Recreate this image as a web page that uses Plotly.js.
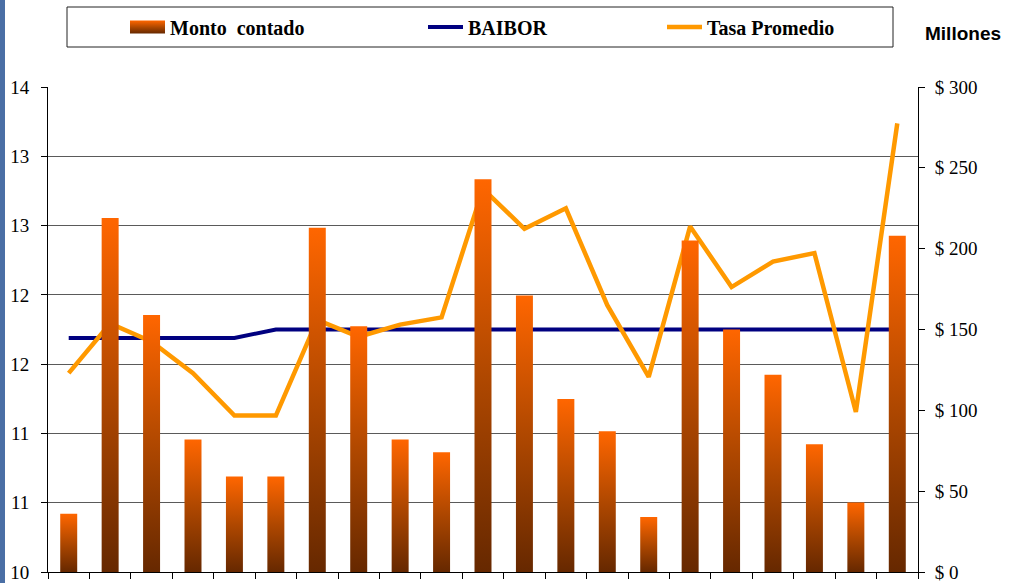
<!DOCTYPE html>
<html>
<head>
<meta charset="utf-8">
<script src="https://cdn.plot.ly/plotly-3.0.1.min.js"></script>
<style>
  html, body { margin: 0; padding: 0; background: #ffffff; }
  body { width: 1009px; height: 583px; overflow: hidden; position: relative; }
  #strip { position: absolute; left: 0; top: 0; width: 5px; height: 583px; background: #4a6fa5; z-index: 5; }
  #chart { width: 1009px; height: 583px; }
</style>
</head>
<body>
<div id="strip"></div>
<div id="chart"></div>
<script>
// ---- data ----
const categories = ["1","2","3","4","5","6","7","8","9","10","11","12","13","14","15","16","17","18","19","20","21"];
const montoContado = [36, 219, 159, 82, 59, 59, 213, 152, 82, 74, 243, 171, 107, 87, 34, 205, 150, 122, 79, 43, 208];
const baibor = [11.93, 11.93, 11.93, 11.93, 11.93, 12.0, 12.0, 12.0, 12.0, 12.0, 12.0, 12.0, 12.0, 12.0, 12.0, 12.0, 12.0, 12.0, 12.0, 12.0, 12.0];
const tasaPromedio = [11.64, 12.05, 11.90, 11.64, 11.29, 11.29, 12.08, 11.94, 12.04, 12.10, 13.16, 12.83, 13.00, 12.20, 11.61, 12.85, 12.35, 12.56, 12.63, 11.32, 13.70];
const leftTickLabels = ["10", "11", "11", "12", "12", "13", "13", "14"];
const leftRange = [10, 14];
const rightRange = [0, 300];

const leftTickVals = leftTickLabels.map((_, i) => leftRange[0] + i * (leftRange[1] - leftRange[0]) / (leftTickLabels.length - 1));

const serif = "Liberation Serif, Times New Roman, serif";
const W = 1009, H = 583;
const legendFont = { family: serif, size: 20, color: "#000000", weight: "bold" };
function legendAt(px) {
  return {
    orientation: "h",
    xref: "container", yref: "container",
    x: px / W, xanchor: "left",
    y: 1 - 27 / H, yanchor: "middle",
    bgcolor: "rgba(0,0,0,0)",
    borderwidth: 0,
    font: legendFont
  };
}

const traces = [
  {
    type: "bar",
    name: "Monto  contado",
    x: categories,
    y: montoContado,
    yaxis: "y2",
    legend: "legend",
    width: 0.41,
    marker: { color: "#d95500", line: { width: 0 } },
    hoverinfo: "skip"
  },
  {
    type: "scatter",
    mode: "lines",
    name: "BAIBOR",
    x: categories,
    y: baibor,
    yaxis: "y",
    legend: "legend2",
    line: { color: "#000080", width: 4 },
    hoverinfo: "skip"
  },
  {
    type: "scatter",
    mode: "lines",
    name: "Tasa Promedio",
    x: categories,
    y: tasaPromedio,
    yaxis: "y",
    legend: "legend3",
    line: { color: "#ff9900", width: 4.5 },
    hoverinfo: "skip"
  }
];

const layout = {
  width: W,
  height: H,
  margin: { l: 48, r: 91, t: 87, b: 11 },
  paper_bgcolor: "#ffffff",
  plot_bgcolor: "#ffffff",
  font: { family: serif, size: 19, color: "#000000" },
  showlegend: true,
  legend: legendAt(130),
  legend2: legendAt(428),
  legend3: legendAt(667),
  xaxis: {
    type: "category",
    categoryorder: "array",
    categoryarray: categories,
    showticklabels: false,
    ticks: "outside",
    tickson: "boundaries",
    ticklen: 6,
    tickcolor: "#000000",
    showline: true,
    linecolor: "#000000",
    linewidth: 1,
    showgrid: false,
    zeroline: false,
    fixedrange: true
  },
  yaxis: {
    range: leftRange,
    tickmode: "array",
    tickvals: leftTickVals,
    ticktext: leftTickLabels,
    ticks: "outside",
    ticklen: 6,
    tickcolor: "#000000",
    ticklabelstandoff: 8,
    showline: true,
    linecolor: "#000000",
    linewidth: 1,
    showgrid: true,
    gridcolor: "#5a5a5a",
    gridwidth: 1,
    zeroline: false,
    tickfont: { family: serif, size: 19, color: "#000000" },
    fixedrange: true
  },
  yaxis2: {
    overlaying: "y",
    side: "right",
    range: rightRange,
    dtick: 50,
    tick0: 0,
    tickprefix: "$ ",
    ticks: "outside",
    ticklen: 6,
    tickcolor: "#000000",
    ticklabelstandoff: 6,
    showline: true,
    linecolor: "#000000",
    linewidth: 1,
    showgrid: false,
    zeroline: false,
    tickfont: { family: serif, size: 19, color: "#000000" },
    fixedrange: true
  },
  shapes: [
    {
      type: "rect",
      xref: "paper", yref: "paper",
      x0: (67 - 48) / 870, x1: (893 - 48) / 870,
      y0: 1 + (87 - 47) / 485, y1: 1 + (87 - 7) / 485,
      line: { color: "#222222", width: 1 },
      fillcolor: "rgba(0,0,0,0)",
      layer: "below"
    }
  ],
  annotations: [
    {
      text: "Millones",
      xref: "paper", yref: "paper",
      x: 1 + (1003 - 918) / 870, xanchor: "right",
      y: 1 + (87 - 34) / 485, yanchor: "middle",
      showarrow: false,
      font: { family: "Liberation Sans, Arial, sans-serif", size: 19, color: "#000000", weight: "bold" }
    }
  ]
};

function applyGradient() {
  const svg = document.querySelector("#chart .main-svg");
  if (!svg) return;
  const ns = "http://www.w3.org/2000/svg";
  let defs = svg.querySelector("defs");
  if (!defs) { defs = document.createElementNS(ns, "defs"); svg.insertBefore(defs, svg.firstChild); }
  if (!svg.querySelector("#barGrad")) {
    const g = document.createElementNS(ns, "linearGradient");
    g.setAttribute("id", "barGrad");
    g.setAttribute("x1", "0"); g.setAttribute("y1", "1");
    g.setAttribute("x2", "0"); g.setAttribute("y2", "0");
    [["0", "#662800"], ["0.5", "#b04800"], ["1", "#ff6600"]].forEach(([o, c]) => {
      const s = document.createElementNS(ns, "stop");
      s.setAttribute("offset", o); s.setAttribute("stop-color", c);
      g.appendChild(s);
    });
    defs.appendChild(g);
  }
  document.querySelectorAll("#chart g.barlayer path").forEach(p => {
    p.style.fill = "url(#barGrad)";
  });
  // widen legend symbols to match the reference swatches
  document.querySelectorAll("#chart .infolayer g.traces").forEach(t => {
    t.querySelectorAll(".legendlines path").forEach(p => {
      p.setAttribute("d", "M-8,0h43");
    });
    t.querySelectorAll(".legendpoints path").forEach(p => {
      if (t.querySelector(".legendlines path")) return;
      p.setAttribute("d", "M15,6.5H-28V-6.5H15Z");
      p.style.fill = "url(#barGrad)";
      p.style.stroke = "none";
    });
  });
}

Plotly.newPlot("chart", traces, layout, { staticPlot: true, displayModeBar: false }).then(applyGradient);
</script>
</body>
</html>
